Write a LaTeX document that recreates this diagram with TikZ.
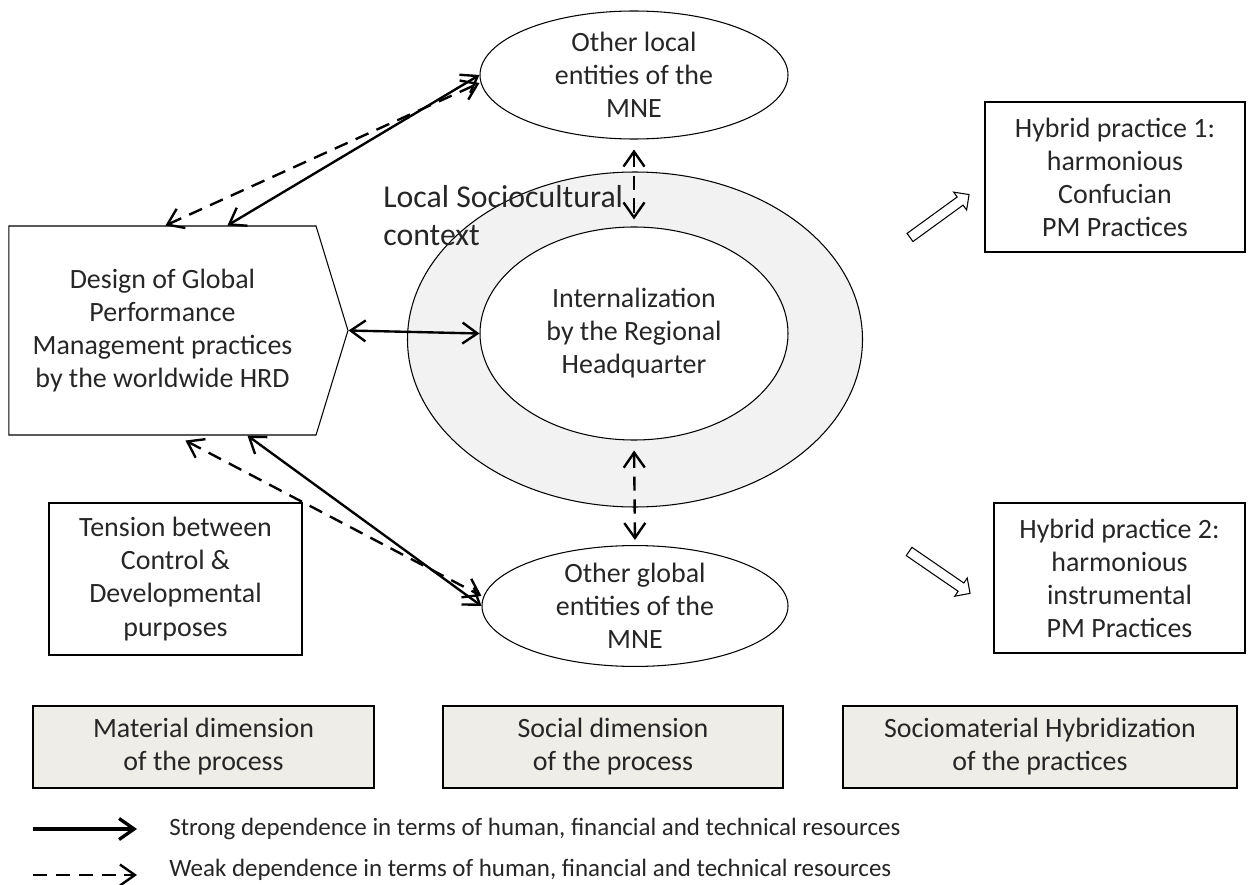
\documentclass[tikz,border=0pt]{standalone}
\usepackage{fontspec}
\setmainfont{Carlito}
\usepackage{tikz}
\usetikzlibrary{arrows.meta}
\usetikzlibrary{shapes.geometric}
\usetikzlibrary{shapes.symbols}
\usetikzlibrary{shapes.arrows}
\definecolor{ringgray}{HTML}{F2F2F2}
\definecolor{dimgray}{HTML}{EEEDE7}
\definecolor{ink}{HTML}{262626}
\newcommand{\mainfs}{\fontsize{15.9}{18.8}\selectfont}
\newcommand{\ctxfs}{\fontsize{18.1}{21.5}\selectfont}
\newcommand{\keyfs}{\fontsize{14.2}{17}\selectfont}
\tikzstyle{entity}=[draw, ellipse, line width=0.6pt, inner sep=0pt, align=center, text=ink, font=\mainfs]
\tikzstyle{box}=[draw, rectangle, line width=0.6pt, inner sep=0pt, align=center, text=ink, font=\mainfs]
\tikzstyle{dimbox}=[box, fill=dimgray, line width=0.9pt, minimum height=1.64cm]
\tikzstyle{hollow}=[draw, single arrow, line width=0.6pt, inner sep=0pt, text height=0.09cm, text depth=0.09cm, minimum width=0.42cm, single arrow head extend=0.12cm]
\tikzstyle{strong}=[line width=1.35pt, >={Straight Barb[length=0.3cm, width=0.42cm]}, <->]
\tikzstyle{weak}=[strong, dash pattern=on 8pt off 5pt]

\begin{document}
\begin{tikzpicture}
    \useasboundingbox (0, 0) rectangle (25.02, -17.7);
    \node[entity, fill=ringgray, minimum width=9.10cm, minimum height=6.70cm] (ring) at (12.70, -6.79) {};
    \node[entity, fill=white, minimum width=6.16cm, minimum height=4.26cm] (inner) at (12.68, -6.67) {Internalization\\by the Regional\\Headquarter};
    \node[anchor=north west, align=left, inner sep=0pt, text=ink, font=\ctxfs] (context) at (7.66, -3.70) {Local Sociocultural\\context};
    \node[entity, minimum width=6.16cm, minimum height=2.56cm] (local) at (12.68, -1.50) {Other local\\entities of the\\MNE};
    \node[entity, minimum width=6.12cm, minimum height=2.36cm] (global) at (12.70, -12.12) {Other global\\entities of the\\MNE};
    \node[box, signal, signal to=east, signal pointer angle=146, minimum width=6.78cm, minimum height=4.18cm] (design) at (3.25, -6.61) {Design of Global\\Performance\\Management practices\\by the worldwide HRD};
    \node[box, minimum width=5.06cm, minimum height=3.04cm] (tension) at (3.51, -11.58) {Tension between\\Control \&\\Developmental\\purposes};
    \node[box, minimum width=5.20cm, minimum height=3.00cm] (hybrid1) at (22.30, -3.54) {Hybrid practice 1:\\harmonious\\Confucian\\PM Practices};
    \node[box, minimum width=5.02cm, minimum height=3.00cm] (hybrid2) at (22.39, -11.56) {Hybrid practice 2:\\harmonious\\instrumental\\PM Practices};
    \node[hollow, rotate=36, minimum height=1.46cm] (toward1) at (18.75, -4.35) {};
    \node[hollow, rotate=-34.5, minimum height=1.48cm] (toward2) at (18.75, -11.42) {};
    \node[dimbox, minimum width=6.82cm] (material) at (4.07, -14.94) {Material dimension\\of the process};
    \node[dimbox, minimum width=6.80cm] (social) at (12.26, -14.94) {Social dimension\\of the process};
    \node[dimbox, minimum width=7.88cm] (sociomat) at (20.80, -14.94) {Sociomaterial Hybridization\\of the practices};
    \draw[weak] ([xshift=3.14cm]design.north west) -- ([yshift=-0.16cm]local.west);
    \draw[strong] ([xshift=4.38cm]design.north west) -- (local.west);
    \draw[strong] (design.east) -- (inner.west);
    \draw[weak] ([xshift=3.54cm, yshift=-0.1cm]design.south west) -- ([yshift=0.2cm]global.west);
    \draw[strong] ([xshift=4.78cm]design.south west) -- (global.west);
    \draw[weak, shorten <=0.2cm, shorten >=0.14cm] (local.south) -- (inner.north);
    \draw[weak, shorten <=0.2cm, shorten >=0.1cm] (inner.south) -- (global.north);
    \coordinate (strong0) at (0.66, -16.58);
    \coordinate (strong1) at (2.74, -16.58);
    \coordinate (weak0) at (0.66, -17.50);
    \coordinate (weak1) at (2.74, -17.50);
    \draw[strong, ->, line width=1.9pt] (strong0) -- (strong1);
    \draw[weak, ->] (weak0) -- (weak1);
    \node[anchor=west, inner sep=0pt, text=ink, font=\keyfs] (strongkey) at (3.38, -16.58) {Strong dependence in terms of human, financial and technical resources};
    \node[anchor=west, inner sep=0pt, text=ink, font=\keyfs] (weakkey) at (3.38, -17.40) {Weak dependence in terms of human, financial and technical resources};
\end{tikzpicture}
\end{document}
